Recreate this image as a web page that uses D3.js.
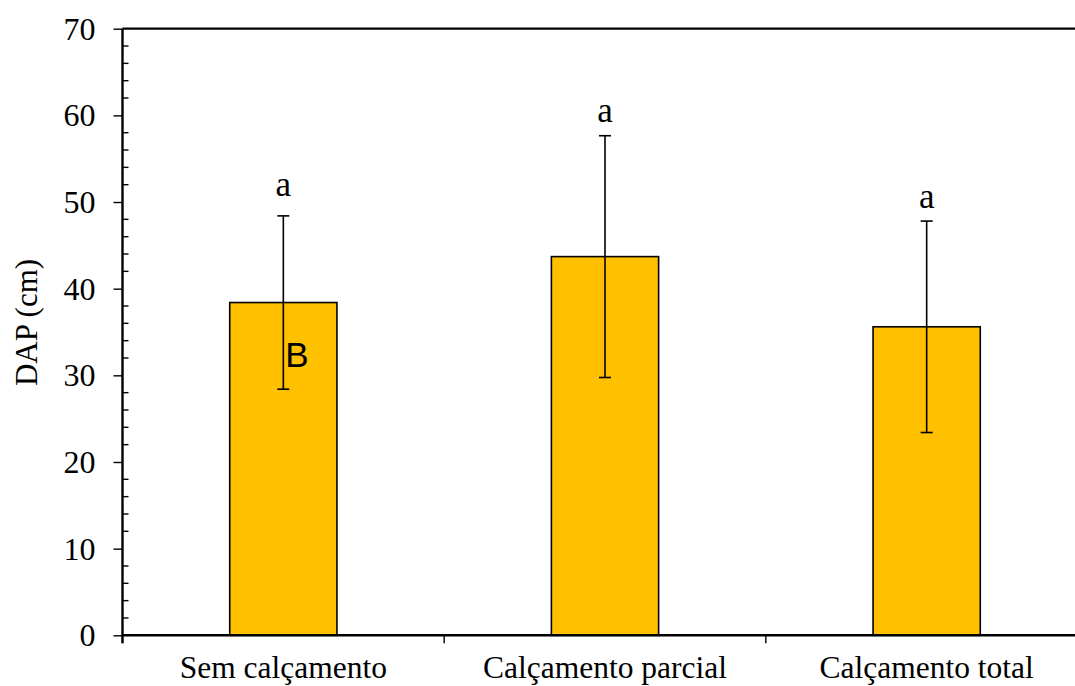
<!DOCTYPE html>
<html>
<head>
<meta charset="utf-8">
<script src="https://cdn.jsdelivr.net/npm/d3@7"></script>
<style>
  html, body { margin: 0; padding: 0; background: #fff; overflow: hidden; }
  svg { display: block; }
</style>
</head>
<body>
<svg id="chart" width="1075" height="686"></svg>
<script>
// Diameter at breast height (DAP) by paving condition: means and standard deviations
const categories = ["Sem calçamento", "Calçamento parcial", "Calçamento total"];
const means = [38.4, 43.7, 35.6];
const sds = [10.0, 13.95, 12.2];
const letters = ["a", "a", "a"];
const letterAt = [50.7, 59.2, 49.3];
const yTicks = [0, 10, 20, 30, 40, 50, 60, 70];

const svg = d3.select("#chart");
const serif = "'Liberation Serif', 'Times New Roman', serif";

const x = d3.scaleBand().domain(categories).range([122.5, 1087.5]).paddingInner(0).paddingOuter(0);
const y = d3.scaleLinear().domain([0, 70]).range([635.3, 28.7]);
const barW = x.bandwidth() / 3;

// Bars
svg.append("g").selectAll("rect")
  .data(categories)
  .join("rect")
  .attr("x", d => x(d) + x.bandwidth() / 2 - barW / 2)
  .attr("y", (d, i) => y(means[i]))
  .attr("width", barW)
  .attr("height", (d, i) => y(0) - y(means[i]))
  .attr("fill", "#FFC000")
  .attr("stroke", "#000")
  .attr("stroke-width", 1.6);

// Error bars (mean ± sd)
const eb = svg.append("g").attr("stroke", "#000").attr("stroke-width", 1.6);
categories.forEach((c, i) => {
  const cx = x(c) + x.bandwidth() / 2;
  const hi = y(means[i] + sds[i]), lo = y(means[i] - sds[i]);
  eb.append("line").attr("x1", cx).attr("x2", cx).attr("y1", hi).attr("y2", lo);
  eb.append("line").attr("x1", cx - 6).attr("x2", cx + 6).attr("y1", hi).attr("y2", hi);
  eb.append("line").attr("x1", cx - 6).attr("x2", cx + 6).attr("y1", lo).attr("y2", lo);
});

// Significance letters
svg.append("g").selectAll("text")
  .data(categories)
  .join("text")
  .attr("x", d => x(d) + x.bandwidth() / 2)
  .attr("y", (d, i) => y(letterAt[i]))
  .attr("text-anchor", "middle")
  .attr("font-family", serif)
  .attr("font-size", 35)
  .attr("fill", "#000")
  .text((d, i) => letters[i]);

// Inline marker inside the first bar
svg.append("text")
  .attr("x", x(categories[0]) + x.bandwidth() / 2 + 2)
  .attr("y", 367)
  .attr("font-family", "'Liberation Sans', Arial, sans-serif")
  .attr("font-size", 35)
  .attr("fill", "#000")
  .text("B");

// Y axis: major ticks outside, minor ticks inside
const yAxis = d3.axisLeft(y).tickValues(yTicks).tickSize(9).tickPadding(18).tickFormat(d3.format("d"));
const gy = svg.append("g").attr("transform", "translate(122.5,0)").call(yAxis);
gy.select(".domain").attr("stroke", "#000").attr("stroke-width", 2.4).attr("d", `M0,${y(70)}V${y(0) + 8}`);
gy.selectAll(".tick line").attr("stroke", "#000").attr("stroke-width", 1.4);
gy.selectAll(".tick text")
  .attr("font-family", serif).attr("font-size", 32).attr("fill", "#000").attr("dy", "0.33em");
const minor = d3.range(0, 71, 2).filter(v => v % 10 !== 0);
gy.append("g").selectAll("line")
  .data(minor)
  .join("line")
  .attr("x1", 0).attr("x2", 6)
  .attr("y1", d => y(d)).attr("y2", d => y(d))
  .attr("stroke", "#000").attr("stroke-width", 1.4);

// Top frame line
svg.append("line")
  .attr("x1", 122.5).attr("x2", 1087.5)
  .attr("y1", y(70)).attr("y2", y(70))
  .attr("stroke", "#000").attr("stroke-width", 2.2);

// X axis with ticks at category boundaries
const gx = svg.append("g").attr("transform", `translate(0,${y(0)})`);
gx.append("line").attr("x1", 122.5).attr("x2", 1087.5).attr("y1", 0).attr("y2", 0)
  .attr("stroke", "#000").attr("stroke-width", 2.4);
gx.selectAll("line.bound")
  .data(categories)
  .join("line")
  .attr("class", "bound")
  .attr("x1", d => x(d)).attr("x2", d => x(d))
  .attr("y1", 0).attr("y2", 8)
  .attr("stroke", "#000").attr("stroke-width", 1.4);
gx.selectAll("text")
  .data(categories)
  .join("text")
  .attr("x", d => x(d) + x.bandwidth() / 2)
  .attr("y", 43)
  .attr("text-anchor", "middle")
  .attr("font-family", serif)
  .attr("font-size", 31.5)
  .attr("fill", "#000")
  .text(d => d);

// Y axis title
svg.append("text")
  .attr("transform", `translate(37,${(258 + 387) / 2}) rotate(-90)`)
  .attr("text-anchor", "middle")
  .attr("font-family", serif)
  .attr("font-size", 31)
  .attr("fill", "#000")
  .text("DAP (cm)");
</script>
</body>
</html>
